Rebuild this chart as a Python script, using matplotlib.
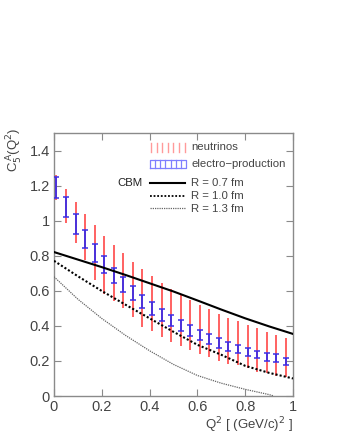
import matplotlib
matplotlib.use("Agg")
import matplotlib.pyplot as plt
import numpy as np

plt.rcParams['font.family'] = ['Liberation Sans', 'DejaVu Sans']

# ---------------- data ----------------
q2 = [0.01, 0.05, 0.09, 0.13, 0.17, 0.21, 0.25, 0.29, 0.33, 0.37, 0.41, 0.45, 0.49,
      0.53, 0.57, 0.61, 0.65, 0.69, 0.73, 0.77, 0.81, 0.85, 0.89, 0.93, 0.97]

# neutrino data (upper / lower ends of error bars)
nu_hi = [1.263, 1.181, 1.105, 1.040, 0.975, 0.914, 0.863, 0.815, 0.766, 0.724, 0.682, 0.644, 0.610,
         0.577, 0.549, 0.520, 0.495, 0.469, 0.444, 0.425, 0.406, 0.387, 0.367, 0.349, 0.330]
nu_lo = [1.120, 0.987, 0.872, 0.777, 0.660, 0.580, 0.539, 0.501, 0.453, 0.392, 0.373, 0.339, 0.310,
         0.286, 0.263, 0.240, 0.221, 0.202, 0.183, 0.177, 0.158, 0.139, 0.130, 0.114, 0.107]

# electro-production data (upper / lower ends of error bars)
el_hi = [1.250, 1.135, 1.038, 0.947, 0.867, 0.796, 0.730, 0.678, 0.625, 0.577, 0.537, 0.497, 0.463,
         0.434, 0.406, 0.377, 0.354, 0.330, 0.310, 0.291, 0.272, 0.257, 0.248, 0.238, 0.216]
el_lo = [1.130, 1.021, 0.926, 0.842, 0.767, 0.700, 0.647, 0.596, 0.545, 0.501, 0.463, 0.429, 0.400,
         0.371, 0.343, 0.320, 0.299, 0.276, 0.259, 0.244, 0.229, 0.215, 0.202, 0.194, 0.174]

# CBM model curves
cbm_x = [0.0, 0.1, 0.2, 0.3, 0.4, 0.5, 0.6, 0.7, 0.8, 0.9, 1.0]
cbm_r07 = [0.821, 0.778, 0.735, 0.690, 0.643, 0.596, 0.545, 0.493, 0.443, 0.397, 0.354]
cbm_r10 = [0.771, 0.683, 0.599, 0.520, 0.443, 0.366, 0.292, 0.235, 0.172, 0.132, 0.100]
cbm_x13 = [0.0, 0.1, 0.2, 0.3, 0.4, 0.5, 0.6, 0.7, 0.8, 0.9, 0.92]
cbm_r13 = [0.680, 0.552, 0.442, 0.345, 0.258, 0.180, 0.117, 0.073, 0.038, 0.008, 0.0]

xticks = [0, 0.2, 0.4, 0.6, 0.8, 1]
xticklabels = ['0', '0.2', '0.4', '0.6', '0.8', '1']
yticks = [0, 0.2, 0.4, 0.6, 0.8, 1.0, 1.2, 1.4]
yticklabels = ['0', '0.2', '0.4', '0.6', '0.8', '1', '1.2', '1.4']

# ---------------- figure ----------------
fig = plt.figure(figsize=(3.37, 4.36), dpi=100)
ax = fig.add_axes([54/337, 40/436, 239/337, 263/436])

red = '#ff5555'
blue = '#3c2de6'
grey_axis = '#8a8a8a'
txt = '#444444'

x = np.array(q2)
nh, nl = np.array(nu_hi), np.array(nu_lo)
eh, el = np.array(el_hi), np.array(el_lo)

ax.vlines(x, nl, nh, color=red, lw=1.3, zorder=2)
ax.errorbar(x, (eh + el) / 2, yerr=(eh - el) / 2, fmt='none', ecolor=blue,
            elinewidth=1.3, capsize=2.3, capthick=1.1, zorder=3)

ax.plot(cbm_x, cbm_r07, color='black', lw=1.5, zorder=4)
ax.plot(cbm_x, cbm_r10, color='black', lw=1.5, ls=(0, (1, 1)), zorder=4)
ax.plot(cbm_x13, cbm_r13, color='#666666', lw=0.9, ls=(0, (1, 0.8)), zorder=4)

ax.set_xlim(0, 1)
ax.set_ylim(0, 1.5)
ax.set_xticks(xticks)
ax.set_xticklabels(xticklabels)
ax.set_yticks(yticks)
ax.set_yticklabels(yticklabels)
ax.tick_params(direction='in', length=5, width=0.8, color=grey_axis,
               labelcolor=txt, labelsize=10.5, top=True, right=True, pad=3)
for s in ax.spines.values():
    s.set_color(grey_axis)
    s.set_linewidth(1.0)

ax.set_xlabel(r'Q$^2$ [ (GeV/c)$^2$ ]', loc='right', fontsize=9.5, color=txt)
ax.xaxis.set_label_coords(1.0, -0.075)
ax.set_ylabel(r'C$_5^{\,\mathrm{A}}$(Q$^2$)', loc='top', fontsize=9.5, color=txt)
ax.yaxis.set_label_coords(-0.12, 1.02)

# ---------------- legend (manual) ----------------
tr = ax.transAxes
def px(xp, yp):
    return ((xp - 54) / 239, (396 - yp) / 263)

fs = 8.2
# neutrinos sample: pale red vertical strokes
for i in range(7):
    xa, _ = px(151 + i * 5.6, 0)
    _, y0 = px(0, 152)
    _, y1 = px(0, 143)
    ax.plot([xa, xa], [y0, y1], transform=tr, color='#ff9a9a', lw=1.0, clip_on=False)
xa, ya = px(191, 147)
ax.text(xa, ya, 'neutrinos', transform=tr, fontsize=fs, color=txt, va='center', ha='left')

# electro-production sample: blue box with vertical strokes
x0, y0 = px(150, 168)
x1, y1 = px(186, 160)
ax.plot([x0, x1, x1, x0, x0], [y0, y0, y1, y1, y0], transform=tr, color='#8080ff', lw=0.9)
for i in range(1, 7):
    xa = x0 + (x1 - x0) * i / 7
    ax.plot([xa, xa], [y0, y1], transform=tr, color='#8080ff', lw=0.9)
xa, ya = px(191, 164)
ax.text(xa, ya, 'electro\u2212production', transform=tr, fontsize=fs, color=txt, va='center', ha='left')

# CBM curves
xa, ya = px(117, 183)
ax.text(xa, ya, 'CBM', transform=tr, fontsize=fs, color='#222222', va='center', ha='left')
labels = ['R = 0.7 fm', 'R = 1.0 fm', 'R = 1.3 fm']
ys = [183, 196, 208.5]
styles = [dict(color='black', lw=1.5), dict(color='black', lw=1.3, ls=(0, (1, 1))),
          dict(color='#666666', lw=0.9, ls=(0, (1, 0.8)))]
for lab, yp, st in zip(labels, ys, styles):
    x0, ya = px(150, yp)
    x1, _ = px(185, yp)
    ax.plot([x0, x1], [ya, ya], transform=tr, **st)
    xa, _ = px(191, yp)
    ax.text(xa, ya, lab, transform=tr, fontsize=fs, color=txt, va='center', ha='left')

fig.savefig('out.png', dpi=100)
